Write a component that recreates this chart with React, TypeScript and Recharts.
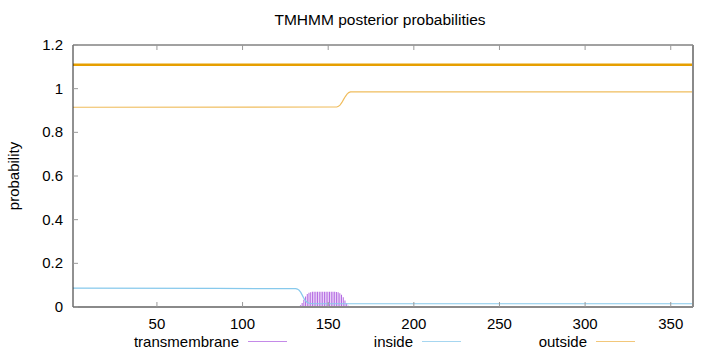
import { ComposedChart, Line, Bar, XAxis, YAxis } from 'recharts'

// posterior probabilities (sequence positions 1..363)
const insidePos = [1, 85, 131, 132, 133, 134, 135, 136, 137, 138, 139, 141, 363]
const insideVals = [0.086, 0.085, 0.084, 0.082, 0.077, 0.067, 0.052, 0.037, 0.026, 0.02, 0.017, 0.015, 0.015]

const outsidePos = [1, 155, 156, 157, 158, 159, 160, 161, 162, 163, 363]
const outsideVals = [0.915, 0.916, 0.919, 0.926, 0.937, 0.951, 0.964, 0.975, 0.982, 0.985, 0.985]

const tmPos = [133, 134, 135, 136, 137, 138, 139, 140, 141, 142, 143, 144, 145, 146, 147, 148, 149, 150, 151, 152, 153, 154, 155, 156, 157, 158, 159, 160, 161, 162]
const tmVals = [0.003, 0.008, 0.018, 0.033, 0.048, 0.059, 0.065, 0.068, 0.07, 0.07, 0.07, 0.07, 0.07, 0.07, 0.07, 0.07, 0.07, 0.07, 0.07, 0.07, 0.07, 0.07, 0.069, 0.067, 0.063, 0.056, 0.045, 0.03, 0.016, 0.006]

// predicted topology: whole sequence outside
const regionPos = [1, 363]
const regionLevel = 1.11

const xTicks = [50, 100, 150, 200, 250, 300, 350]
const yTicks = [0, 0.2, 0.4, 0.6, 0.8, 1, 1.2]

const legendItems = [
  { name: 'transmembrane', color: '#c48ae8' },
  { name: 'inside', color: '#a6d6f0' },
  { name: 'outside', color: '#f2c77a' },
]

const rows = new Map<number, any>()
const put = (pos: number, key: string, v: number) => {
  const r = rows.get(pos) || { pos }
  r[key] = v
  rows.set(pos, r)
}
insidePos.forEach((p, i) => put(p, 'inside', insideVals[i]))
outsidePos.forEach((p, i) => put(p, 'outside', outsideVals[i]))
tmPos.forEach((p, i) => put(p, 'tm', tmVals[i]))
regionPos.forEach((p) => put(p, 'region', regionLevel))
const data = Array.from(rows.values()).sort((a, b) => a.pos - b.pos)

const font = '"Liberation Sans", Arial, sans-serif'
const tickGray = '#999'

const BottomTick = ({ x, y, payload }: any) => (
  <g>
    <line x1={x} y1={y} x2={x} y2={y - 5} stroke={tickGray} />
    <text x={x} y={y + 22} textAnchor="middle" fontSize={15} fontFamily={font} fill="#000">
      {payload.value}
    </text>
  </g>
)
const TopTick = ({ x, y }: any) => <line x1={x} y1={y} x2={x} y2={y + 5} stroke={tickGray} />
const LeftTick = ({ x, y, payload }: any) => (
  <g>
    <line x1={x} y1={y} x2={x + 5} y2={y} stroke={tickGray} />
    <text x={x - 10} y={y + 5} textAnchor="end" fontSize={15} fontFamily={font} fill="#000">
      {payload.value}
    </text>
  </g>
)
const RightTick = ({ x, y }: any) => <line x1={x} y1={y} x2={x - 5} y2={y} stroke={tickGray} />

export default function App() {
  return (
    <div style={{ position: 'absolute', left: 0, top: 0, width: 720, height: 352, background: '#fff', fontFamily: font }}>
      <div style={{ position: 'absolute', left: 0, width: 760, top: 11, textAlign: 'center', fontSize: 15.5 }}>
        TMHMM posterior probabilities
      </div>
      <ComposedChart width={720} height={352} data={data} margin={{ top: 44, right: 26, bottom: 15, left: 0 }}>
        <XAxis
          xAxisId="b"
          dataKey="pos"
          type="number"
          domain={[1, 363]}
          ticks={xTicks}
          height={30}
          tickSize={0}
          tickMargin={0}
          tick={<BottomTick />}
          axisLine={{ stroke: '#8a8a8a', strokeWidth: 2 }}
          tickLine={false}
          allowDataOverflow
        />
        <XAxis
          xAxisId="t"
          orientation="top"
          dataKey="pos"
          type="number"
          domain={[1, 363]}
          ticks={xTicks}
          height={1}
          tickSize={0}
          tickMargin={0}
          tick={<TopTick />}
          axisLine={{ stroke: '#444', strokeWidth: 1 }}
          tickLine={false}
        />
        <YAxis
          yAxisId="l"
          type="number"
          domain={[0, 1.2]}
          ticks={yTicks}
          width={73}
          tickSize={0}
          tickMargin={0}
          tick={<LeftTick />}
          axisLine={{ stroke: '#222', strokeWidth: 1 }}
          tickLine={false}
          label={{
            content: () => (
              <text x={19} y={176} transform="rotate(-90 19 176)" textAnchor="middle" fontSize={15} fontFamily={font} fill="#000">
                probability
              </text>
            ),
          }}
        />
        <YAxis
          yAxisId="r"
          orientation="right"
          type="number"
          domain={[0, 1.2]}
          ticks={yTicks}
          width={1}
          tickSize={0}
          tickMargin={0}
          tick={<RightTick />}
          axisLine={{ stroke: '#8a8a8a', strokeWidth: 2 }}
          tickLine={false}
        />
        <Bar xAxisId="b" yAxisId="l" dataKey="tm" barSize={1} fill="#b266e2" isAnimationActive={false} />
        <Line xAxisId="b" yAxisId="l" dataKey="inside" type="linear" stroke="#87c9ec" strokeWidth={1.2} dot={false} connectNulls isAnimationActive={false} />
        <Line xAxisId="b" yAxisId="l" dataKey="outside" type="linear" stroke="#f0bd5e" strokeWidth={1.2} dot={false} connectNulls isAnimationActive={false} />
        <Line xAxisId="b" yAxisId="l" dataKey="region" type="linear" stroke="#e69f00" strokeWidth={2.5} dot={false} connectNulls isAnimationActive={false} />
      </ComposedChart>
      {legendItems.map((it, i) => (
        <div key={it.name} style={{ position: 'absolute', top: 331, left: 113 + i * 174, width: 174, height: 20, display: 'flex', alignItems: 'center', justifyContent: 'flex-end', fontSize: 15 }}>
          <span>{it.name}</span>
          <span style={{ display: 'inline-block', width: 39, height: 1, background: it.color, marginLeft: 9 }} />
        </div>
      ))}
    </div>
  )
}
